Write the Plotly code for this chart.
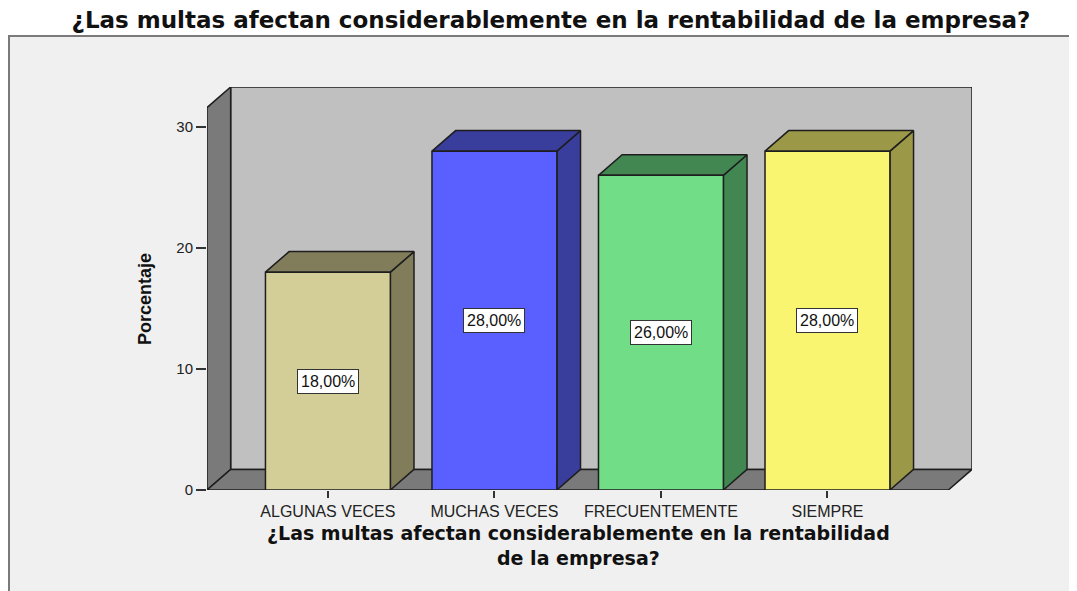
import plotly.graph_objects as go

# ---- data ----
categories = ["ALGUNAS VECES", "MUCHAS VECES", "FRECUENTEMENTE", "SIEMPRE"]
percentages = [18.0, 28.0, 26.0, 28.0]
front_colors = ["#d3ce98", "#5a60ff", "#71dd87", "#f9f571"]
side_colors = ["#817d5a", "#393d9c", "#428752", "#9b9848"]
y_ticks = [0, 10, 20, 30]

title_text = "¿Las multas afectan considerablemente en la rentabilidad de la empresa?"
x_title_lines = ["¿Las multas afectan considerablemente en la rentabilidad", "de la empresa?"]
y_title = "Porcentaje"

# ---- page geometry (the html body adds an 8px margin) ----
OFF = 8
W, H = 1077 - OFF, 591 - OFF
PLOT_L, PLOT_R, PLOT_T, PLOT_B = 207, 972, 87, 490   # window pixels
L_M, R_M = PLOT_L - OFF, W - (PLOT_R - OFF)
T_M, B_M = PLOT_T - OFF, H - (PLOT_B - OFF)

# ---- pseudo-3D frame (data units) ----
X0, X1 = -0.726, 3.726      # floor front extent
DX, DY = 0.142, 1.7         # depth offset
WALL_TOP = 31.6
HALF = 0.375                # half bar width
EDGE = "#1e1e1e"

xr = [X0, X1 + DX]
yr = [0, WALL_TOP + DY]
pw, ph = PLOT_R - PLOT_L, PLOT_B - PLOT_T


def px_to_paper(px, py):
    return (px - PLOT_L) / pw, (PLOT_B - py) / ph


def poly(xs, ys, fill, lw=1.5):
    return go.Scatter(x=xs + [xs[0]], y=ys + [ys[0]], mode="lines", fill="toself",
                      fillcolor=fill, line=dict(color=EDGE, width=lw),
                      hoverinfo="skip", showlegend=False, cliponaxis=False)


fig = go.Figure()

# back wall, left wall, floor
fig.add_trace(poly([X0 + DX, X1 + DX, X1 + DX, X0 + DX], [DY, DY, WALL_TOP + DY, WALL_TOP + DY], "#c0c0c0"))
fig.add_trace(poly([X0, X0, X0 + DX, X0 + DX], [0, WALL_TOP, WALL_TOP + DY, DY], "#7a7a7a"))
fig.add_trace(poly([X0, X1, X1 + DX, X0 + DX], [0, 0, DY, DY], "#7a7a7a"))

# bars
for i, (v, fc, sc) in enumerate(zip(percentages, front_colors, side_colors)):
    c = i
    fig.add_trace(poly([c + HALF, c + HALF + DX, c + HALF + DX, c + HALF],
                       [0, DY, v + DY, v], sc))
    fig.add_trace(poly([c - HALF, c - HALF + DX, c + HALF + DX, c + HALF],
                       [v, v + DY, v + DY, v], sc))
    fig.add_trace(poly([c - HALF, c - HALF, c + HALF, c + HALF], [0, v, v, 0], fc))

annotations = []
for i, v in enumerate(percentages):
    annotations.append(dict(
        x=i, y=v / 2, xref="x", yref="y", showarrow=False,
        text=f"{v:.2f}".replace(".", ",") + "%",
        font=dict(family="Liberation Sans, Arial", size=16, color="#111"),
        bgcolor="white", bordercolor="#333", borderwidth=1, borderpad=3,
    ))

# y axis title
yx, yy = px_to_paper(145, 299)
annotations.append(dict(x=yx, y=yy, xref="paper", yref="paper", showarrow=False,
                        text=f"<b>{y_title}</b>", textangle=-90,
                        font=dict(family="Liberation Sans, Arial", size=18, color="#111"),
                        xanchor="center", yanchor="middle"))

# x axis title (two lines)
ax, ay = px_to_paper(578, 545)
annotations.append(dict(x=ax, y=ay, xref="paper", yref="paper", showarrow=False,
                        text="<b>" + "<br>".join(x_title_lines) + "</b>",
                        font=dict(family="DejaVu Sans", size=19, color="#111"),
                        xanchor="center", yanchor="middle", align="center"))

# panel background
p0x, p0y = px_to_paper(9, 36)
p1x, p1y = px_to_paper(1100, 620)
shapes = [dict(type="rect", xref="paper", yref="paper", x0=p0x, y0=p1y, x1=p1x, y1=p0y,
               fillcolor="#f0f0f0", line=dict(color="#7a7a7a", width=2), layer="below")]

fig.update_layout(
    width=W, height=H,
    margin=dict(l=L_M, r=R_M, t=T_M, b=B_M),
    paper_bgcolor="white", plot_bgcolor="rgba(0,0,0,0)",
    title=dict(text=f"<b>{title_text}</b>", x=(551 - OFF) / W, y=1 - (20 - OFF) / H,
               xanchor="center", yanchor="middle",
               font=dict(family="DejaVu Sans", size=23, color="#111")),
    xaxis=dict(range=xr, tickvals=list(range(len(categories))), ticktext=categories,
               ticks="outside", ticklen=7, tickwidth=1.5, tickcolor="#333",
               showgrid=False, zeroline=False, showline=False, fixedrange=True,
               tickfont=dict(family="Liberation Sans, Arial", size=16, color="#222")),
    yaxis=dict(range=yr, tickvals=y_ticks, ticks="outside", ticklen=10, tickwidth=1.5,
               tickcolor="#333", showgrid=False, zeroline=False, showline=False,
               fixedrange=True,
               tickfont=dict(family="Liberation Sans, Arial", size=15, color="#222")),
    annotations=annotations,
    shapes=shapes,
    showlegend=False,
)

fig.write_html("out.html")
